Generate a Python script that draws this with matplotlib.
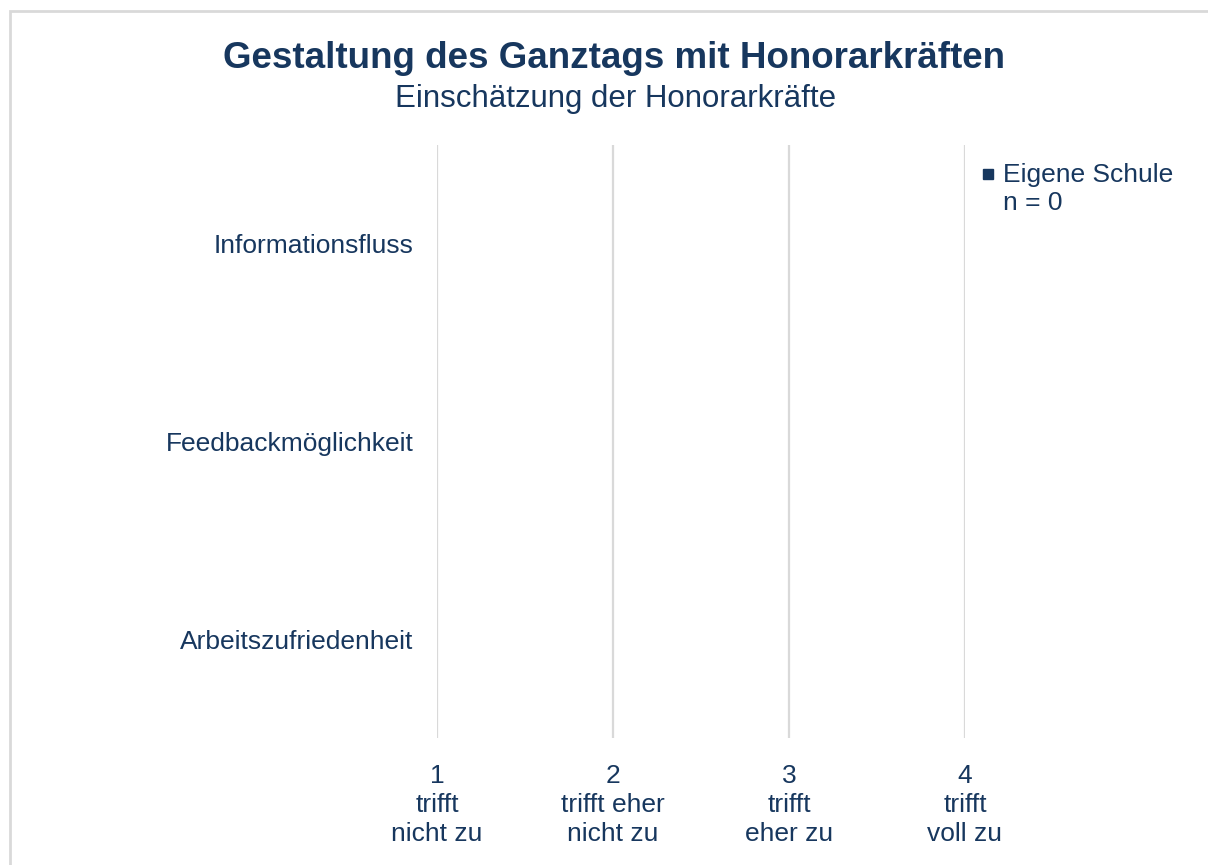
import numpy as np
import matplotlib.pyplot as plt
from matplotlib.patches import Rectangle

plt.rcParams['font.family'] = ['Liberation Sans', 'DejaVu Sans']

navy = '#17375e'
grid = '#d9d9d9'

categories = ['Informationsfluss', 'Feedbackmöglichkeit', 'Arbeitszufriedenheit']
eigene_schule = [np.nan, np.nan, np.nan]
n_eigene = 0
scale_values = [1, 2, 3, 4]
scale_labels = ['1\ntrifft\nnicht zu', '2\ntrifft eher\nnicht zu',
                '3\ntrifft\neher zu', '4\ntrifft\nvoll zu']

W, H = 1208, 865
fig = plt.figure(figsize=(W / 100, H / 100), dpi=100)

# outer frame (runs off the right and bottom edge)
fig.patches.append(Rectangle((10 / W, -0.1), 1.2, 1.1 - 11 / H,
                             transform=fig.transFigure, fill=False,
                             edgecolor=grid, lw=2))

ax = fig.add_axes([437 / W, 1 - 738 / H, (965 - 437) / W, (738 - 145) / H])

y = np.arange(len(categories))
ax.barh(y, eigene_schule, color=navy, height=0.5)

ax.set_xlim(1, 4)
ax.set_ylim(len(categories) - 0.5, -0.5)
ax.set_yticks(y, categories)
ax.set_xticks(scale_values, scale_labels)
ax.tick_params(axis='y', length=0, pad=17, labelsize=19, labelcolor=navy)
ax.tick_params(axis='x', length=0, pad=19, labelsize=19, labelcolor=navy)
for lbl in ax.get_xticklabels():
    lbl.set_linespacing(1.25)

for v in scale_values:
    ax.axvline(v, color=grid, lw=1.6, zorder=0)
for s in ax.spines.values():
    s.set_visible(False)

fig.text(614 / W, 1 - 58 / H, 'Gestaltung des Ganztags mit Honorarkräften',
         ha='center', va='center', fontsize=26.5, fontweight='bold', color=navy)
fig.text(616 / W, 1 - 99 / H, 'Einschätzung der Honorarkräfte',
         ha='center', va='center', fontsize=22.5, color=navy)

# legend: small square + two-line label
fig.patches.append(Rectangle((983 / W, 1 - 179 / H), 10 / W, 10 / H,
                             transform=fig.transFigure, color=navy))
fig.text(1003 / W, 1 - 189 / H, f'Eigene Schule\nn = {n_eigene}',
         ha='left', va='center', fontsize=19, color=navy, linespacing=1.25)

fig.savefig('out.png', dpi=100)
